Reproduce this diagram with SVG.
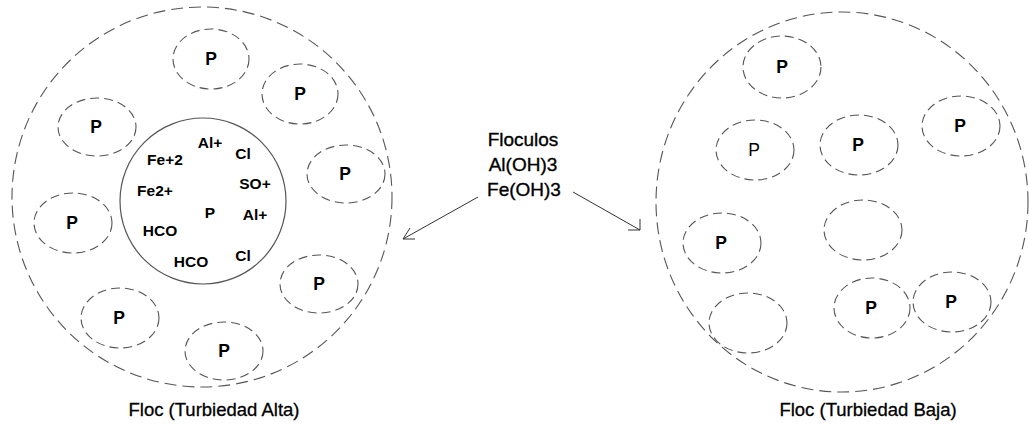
<svg xmlns="http://www.w3.org/2000/svg" width="1029" height="425" viewBox="0 0 1029 425">
  <style>
    .floc { fill: none; stroke: #555; stroke-width: 1.1; stroke-dasharray: 12 6; }
    .part { fill: none; stroke: #555; stroke-width: 1.1; stroke-dasharray: 9 5; }
    .core { fill: none; stroke: #555; stroke-width: 1.2; }
    .p { font-family: "Liberation Sans", Arial, sans-serif; font-size: 17.5px; font-weight: bold; text-anchor: middle; fill: #000; }
    .p-reg { font-weight: normal; }
    .ion { font-family: "Liberation Sans", Arial, sans-serif; font-size: 15.5px; font-weight: bold; text-anchor: middle; fill: #000; }
    .mid { font-family: "Liberation Sans", Arial, sans-serif; font-size: 19px; text-anchor: middle; fill: #000; stroke: #000; stroke-width: 0.35; }
    .cap { font-family: "Liberation Sans", Arial, sans-serif; font-size: 18.5px; text-anchor: middle; fill: #000; stroke: #000; stroke-width: 0.3; }
    .conn { fill: none; stroke: #333; stroke-width: 1; }
  </style>
  <rect width="1029" height="425" fill="#fff"/>

  <!-- High-turbidity floc -->
  <g id="floc-alta">
    <circle class="floc" cx="202" cy="197" r="190"/>
    <g id="core-alta">
      <circle class="core" cx="203" cy="201" r="83"/>
      <text class="ion" x="210" y="148">Al+</text>
      <text class="ion" x="243" y="159">Cl</text>
      <text class="ion" x="165" y="165">Fe+2</text>
      <text class="ion" x="255" y="189">SO+</text>
      <text class="ion" x="155" y="196">Fe2+</text>
      <text class="ion" x="210" y="218">P</text>
      <text class="ion" x="255" y="220">Al+</text>
      <text class="ion" x="160" y="236">HCO</text>
      <text class="ion" x="243" y="261">Cl</text>
      <text class="ion" x="191" y="267">HCO</text>
    </g>
    <g id="pa1"><ellipse class="part" cx="211" cy="59" rx="38" ry="30"/><text class="p" x="211" y="65">P</text></g>
    <g id="pa2"><ellipse class="part" cx="300" cy="94" rx="38" ry="30"/><text class="p" x="300" y="100">P</text></g>
    <g id="pa3"><ellipse class="part" cx="97" cy="127" rx="39" ry="29"/><text class="p" x="96" y="133">P</text></g>
    <g id="pa4"><ellipse class="part" cx="346" cy="174" rx="39" ry="29"/><text class="p" x="345" y="180">P</text></g>
    <g id="pa5"><ellipse class="part" cx="73" cy="223" rx="39" ry="30"/><text class="p" x="72" y="229">P</text></g>
    <g id="pa6"><ellipse class="part" cx="319" cy="284" rx="39" ry="29"/><text class="p" x="319" y="290">P</text></g>
    <g id="pa7"><ellipse class="part" cx="120" cy="318" rx="39" ry="30"/><text class="p" x="119" y="324">P</text></g>
    <g id="pa8"><ellipse class="part" cx="224" cy="351" rx="39" ry="29"/><text class="p" x="224" y="357">P</text></g>
    <text class="cap" x="214" y="416">Floc (Turbiedad Alta)</text>
  </g>

  <!-- Low-turbidity floc -->
  <g id="floc-baja">
    <ellipse class="floc" cx="842" cy="202" rx="186" ry="190"/>
    <g id="pb1"><ellipse class="part" cx="782" cy="67" rx="39" ry="31"/><text class="p" x="782" y="73">P</text></g>
    <g id="pb2"><ellipse class="part" cx="961" cy="126" rx="39" ry="30"/><text class="p" x="960" y="132">P</text></g>
    <g id="pb3"><ellipse class="part" cx="755" cy="150" rx="39" ry="30"/><text class="p p-reg" x="754" y="156">P</text></g>
    <g id="pb4"><ellipse class="part" cx="859" cy="145" rx="39" ry="30"/><text class="p" x="858" y="151">P</text></g>
    <g id="pb5"><ellipse class="part" cx="722" cy="243" rx="39" ry="30"/><text class="p" x="721" y="249">P</text></g>
    <g id="pb6"><ellipse class="part" cx="863" cy="230" rx="39" ry="30"/></g>
    <g id="pb7"><ellipse class="part" cx="748" cy="323" rx="39" ry="30"/></g>
    <g id="pb8"><ellipse class="part" cx="872" cy="308" rx="38" ry="30"/><text class="p" x="871" y="314">P</text></g>
    <g id="pb9"><ellipse class="part" cx="952" cy="302" rx="39" ry="30"/><text class="p" x="951" y="308">P</text></g>
    <text class="cap" x="868" y="416">Floc (Turbiedad Baja)</text>
  </g>

  <!-- Floculant source label -->
  <g id="floculos">
    <text class="mid" x="523" y="146">Floculos</text>
    <text class="mid" x="523" y="171">Al(OH)3</text>
    <text class="mid" x="524" y="196">Fe(OH)3</text>
  </g>

  <!-- Connectors -->
  <g id="connectors">
    <path class="conn" d="M478 197 L403 239"/>
    <path class="conn" d="M410 228 L403 239 L415 239"/>
    <path class="conn" d="M573 192 L640 230"/>
    <path class="conn" d="M640 219 L640 230 L628 230"/>
  </g>
</svg>
